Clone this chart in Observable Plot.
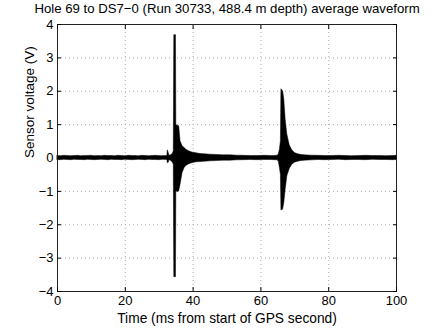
<!DOCTYPE html>
<html>
<head>
<meta charset="utf-8">
<script src="https://cdn.jsdelivr.net/npm/d3@7"></script>
<script src="https://cdn.jsdelivr.net/npm/@observablehq/plot@0.6"></script>
<style>
  html, body { margin: 0; padding: 0; background: white; }
</style>
</head>
<body>
<div id="chart"></div>
<script>
const title = "Hole 69 to DS7\u22120 (Run 30733, 488.4 m depth) average waveform";
const xLabel = "Time (ms from start of GPS second)";
const yLabel = "Sensor voltage (V)";
const xTicks = [0, 20, 40, 60, 80, 100];
const yTicks = [-4, -3, -2, -1, 0, 1, 2, 3, 4];

// Time (ms) of each envelope sample
const time = [
  0, 1, 2, 3, 4, 5, 6, 7, 8, 9, 10, 11, 12, 13, 14, 15, 16, 17, 18, 19, 20,
  21, 22, 23, 24, 25, 26, 27, 28, 29, 30, 31, 32,
  32.4, 32.55, 32.8, 33.0, 33.5, 34.0, 34.3, 34.45, 34.95, 35.05, 35.5, 35.9,
  36.3, 36.9, 37.5, 38.0, 38.6, 39.3, 40, 41, 42.2, 43.5, 45, 47, 49, 51,
  53, 55, 57, 59, 61, 63, 64, 65, 65.3, 65.6, 65.9, 66.05, 66.55, 66.9, 67.3,
  67.8, 68.5, 69.2, 70, 71, 72, 73, 75, 77, 79, 81, 83, 85, 87, 89, 91, 93,
  95, 97, 99, 100
];
// Upper envelope of the averaged waveform (V)
const upper = [
  0.06, 0.055, 0.065, 0.06, 0.055, 0.06, 0.065, 0.055, 0.06, 0.06, 0.065, 0.055, 0.06,
  0.055, 0.065, 0.06, 0.06, 0.055, 0.065, 0.06, 0.055, 0.065, 0.06, 0.06, 0.055, 0.065,
  0.06, 0.055, 0.06, 0.065, 0.06, 0.055, 0.06,
  0.06, 0.23, 0.15, 0.07, 0.08, 0.12, 0.2, 3.68, 3.68, 0.98, 0.97, 0.95,
  0.5, 0.35, 0.3, 0.25, 0.21, 0.18, 0.16, 0.14, 0.12, 0.11, 0.1, 0.09, 0.08, 0.08,
  0.07, 0.065, 0.06, 0.06, 0.065, 0.06, 0.06, 0.07, 0.12, 0.25, 0.5, 2.06, 2.0, 1.75, 1.15,
  0.7, 0.38, 0.24, 0.15, 0.11, 0.09, 0.08, 0.07, 0.065, 0.06, 0.06, 0.065, 0.06, 0.055, 0.06, 0.065, 0.06,
  0.06, 0.055, 0.06, 0.065
];
// Lower envelope of the averaged waveform (V)
const lower = [
  -0.06, -0.065, -0.055, -0.06, -0.065, -0.055, -0.06, -0.06, -0.065, -0.055, -0.06, -0.065, -0.06,
  -0.055, -0.06, -0.065, -0.055, -0.06, -0.06, -0.065, -0.055, -0.06, -0.065, -0.06, -0.055, -0.06,
  -0.065, -0.055, -0.06, -0.06, -0.065, -0.055, -0.06,
  -0.06, -0.16, -0.14, -0.07, -0.08, -0.14, -0.2, -3.57, -3.57, -1.0, -1.02, -1.0,
  -0.8, -0.45, -0.3, -0.24, -0.2, -0.17, -0.15, -0.13, -0.12, -0.11, -0.1, -0.09, -0.08, -0.08,
  -0.07, -0.065, -0.06, -0.065, -0.06, -0.06, -0.065, -0.07, -0.12, -0.3, -0.5, -1.57, -1.55, -1.35, -0.95,
  -0.55, -0.33, -0.21, -0.14, -0.11, -0.09, -0.08, -0.07, -0.06, -0.065, -0.06, -0.055, -0.065, -0.06, -0.06,
  -0.065, -0.055, -0.06, -0.06, -0.065, -0.06
];

const n = Math.min(time.length, upper.length, lower.length);
const data = d3.range(n).map(i => ({t: time[i], hi: upper[i], lo: lower[i]}));

const chart = Plot.plot({
  width: 437,
  height: 328,
  marginTop: 24,
  marginBottom: 37,
  marginLeft: 57,
  marginRight: 41,
  style: {fontFamily: "'Liberation Sans', Arial, sans-serif", fontSize: "13px", background: "white", color: "black"},
  x: {domain: [0, 100]},
  y: {domain: [-4, 4]},
  marks: [
    Plot.gridX(xTicks.slice(1, -1), {stroke: "#aaa", strokeOpacity: 1, strokeDasharray: "1,3"}),
    Plot.gridY(yTicks.slice(1, -1), {stroke: "#aaa", strokeOpacity: 1, strokeDasharray: "1,3"}),
    Plot.areaY(data, {x: "t", y1: "lo", y2: "hi", fill: "black", stroke: "black", strokeWidth: 0.5}),
    Plot.frame({stroke: "#222"}),
    Plot.axisX(xTicks, {anchor: "bottom", tickSize: -4, tickPadding: 8, label: null}),
    Plot.axisX(xTicks, {anchor: "top", tickSize: -4, tickFormat: () => "", label: null}),
    Plot.axisY(yTicks, {anchor: "left", tickSize: -4, tickPadding: 8, label: null}),
    Plot.axisY(yTicks, {anchor: "right", tickSize: -4, tickFormat: () => "", label: null}),
    Plot.text([xLabel], {text: d => d, frameAnchor: "bottom", dy: 31, lineAnchor: "bottom", fontSize: 13.75, fill: "black"}),
    Plot.text([yLabel], {text: d => d, frameAnchor: "left", dx: -28, rotate: -90, lineAnchor: "middle", fontSize: 13.5, fill: "black"}),
    Plot.text([title], {text: d => d, frameAnchor: "top", dy: -12, lineAnchor: "bottom", fontSize: 13.2, fill: "black"})
  ]
});
document.getElementById("chart").appendChild(chart);
</script>
</body>
</html>
